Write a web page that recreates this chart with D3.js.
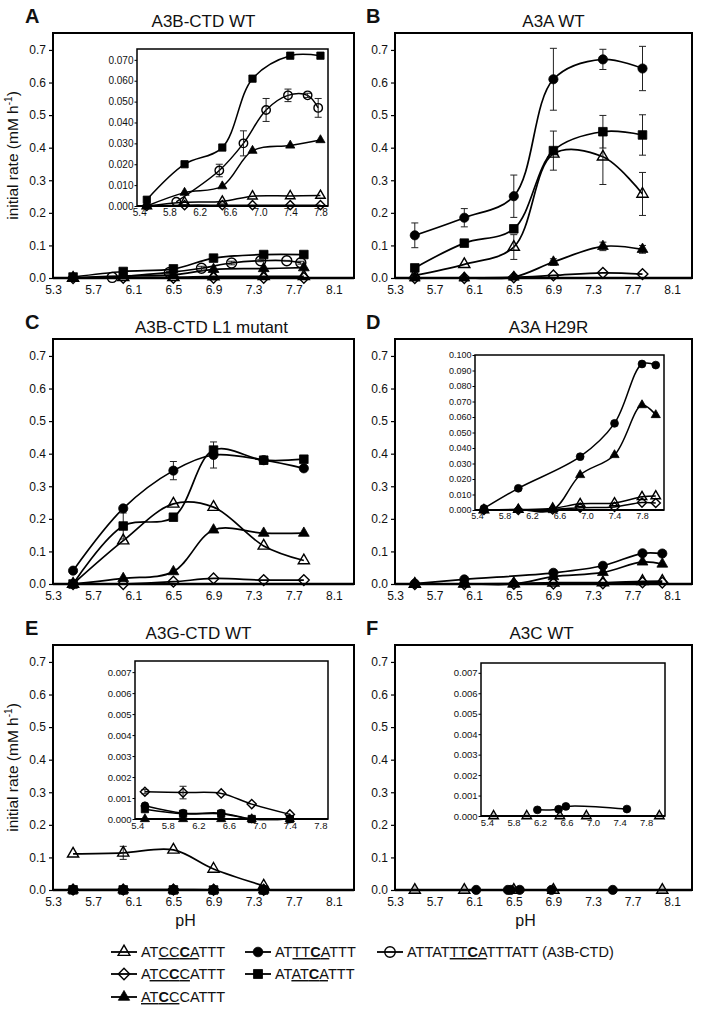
<!DOCTYPE html>
<html>
<head>
<meta charset="utf-8">
<script src="https://cdnjs.cloudflare.com/ajax/libs/d3/7.8.5/d3.min.js"></script>
<style>
  body { margin: 0; background: #fff; }
  svg text { font-family: "Liberation Sans", Arial, sans-serif; fill: #111; }
</style>
</head>
<body>
<div id="chart"></div>
<script>
// ---- data ----
const pH6 = [5.5, 6.0, 6.5, 6.9, 7.4, 7.8];
const pH7 = [5.5, 6.0, 6.5, 6.9, 7.4, 7.8, 8.0];
const pH5 = [5.5, 6.0, 6.5, 6.9, 7.4];

const xTicks = [5.3, 5.7, 6.1, 6.5, 6.9, 7.3, 7.7, 8.1];
const yTicks = [0, 0.1, 0.2, 0.3, 0.4, 0.5, 0.6, 0.7];
const insetXTicks = [5.4, 5.8, 6.2, 6.6, 7.0, 7.4, 7.8];

// A  A3B-CTD WT
const aSq = [0.003, 0.020, 0.028, 0.061, 0.072, 0.072];
const aFtri = [0.0, 0.0064, 0.0095, 0.0265, 0.029, 0.0316];
const aTri = [0.0, 0.0018, 0.0022, 0.0047, 0.0048, 0.0050];
const aDia = [0.0, 0.0004, 0.0004, 0.0004, 0.0004, 0.0004];
const aOcircPH = [5.89, 6.46, 6.78, 7.08, 7.37, 7.63, 7.77];
const aOcirc = [0.002, 0.017, 0.030, 0.046, 0.053, 0.053, 0.047];
const aOcircErr = [0, 0.003, 0.006, 0.0055, 0.003, 0.001, 0.0045];

// B  A3A WT
const bCirc = [0.131, 0.185, 0.251, 0.61, 0.671, 0.643];
const bCircErr = [0.038, 0.028, 0.065, 0.095, 0.031, 0.068];
const bSq = [0.031, 0.107, 0.151, 0.391, 0.449, 0.439];
const bSqErr = [0, 0, 0, 0.06, 0.05, 0.062];
const bTri = [0.008, 0.042, 0.095, 0.381, 0.372, 0.258];
const bTriErr = [0, 0, 0.038, 0, 0.085, 0.066];
const bFtri = [0, 0, 0.003, 0.049, 0.097, 0.088];
const bFtriErr = [0, 0, 0, 0.01, 0.013, 0.012];
const bDia = [0, 0, 0.002, 0.008, 0.016, 0.012];

// C  A3B-CTD L1 mutant
const cCirc = [0.041, 0.232, 0.348, 0.396, 0.38, 0.355];
const cCircErr = [0, 0, 0.028, 0.04, 0, 0];
const cSq = [0, 0.178, 0.205, 0.411, 0.38, 0.383];
const cSqErr = [0, 0.04, 0, 0, 0, 0];
const cTri = [0, 0.133, 0.246, 0.236, 0.117, 0.072];
const cFtri = [0, 0.017, 0.038, 0.166, 0.156, 0.156];
const cDia = [0, 0, 0.007, 0.017, 0.012, 0.012];

// D  A3A H29R
const dCircPH = [5.5, 6.0, 6.9, 7.4, 7.8, 8.0];
const dCirc = [0.001, 0.014, 0.0344, 0.0559, 0.0942, 0.0935];
const dFtri = [0, 0.0004, 0, 0.0226, 0.0355, 0.0677, 0.0613];
const dTri = [0, 0.0003, 0.001, 0.004, 0.0045, 0.0085, 0.009];
const dDia = [0, 0, 0.0003, 0.0015, 0.002, 0.0048, 0.0045];

// E  A3G-CTD WT
const eTri = [0.111, 0.114, 0.123, 0.0645, 0.013];
const eTriErr = [0, 0.02, 0, 0, 0];
const eDia = [0.0013, 0.00126, 0.00122, 0.00071, 0.00022];
const eDiaErr = [0.0001, 0.0003, 0, 0, 0];
const eCirc = [0.00063, 0.00028, 0.00028, 0.0, 0.0];
const eSq = [0.00047, 0.00025, 0.00025, 0.0, 0.0];
const eFtri = [0, 0, 0, 0, 0];

// F  A3C WT
const fTriPH = [5.5, 6.0, 6.5, 6.9, 8.0];
const fTri = [0, 0, 0, 0, 0];
const fCircPH = [6.12, 6.44, 6.47, 6.56, 6.88, 7.5];
const fCirc = [0.0003, 0.0003, 0.0003, 0.00045, 0.0002, 0.00034];
const fCircInsetPH = [6.16, 6.48, 6.59, 7.51];
const fCircInset = [0.0003, 0.00033, 0.00047, 0.00034];

// ---- layout ----
const W = 704, H = 1015;
const colL = [53, 395], colW = [301, 297];
const rowT = [33, 339, 645], frameH = 245;

const S = (shape, x, y, err) => ({shape, x, y, err});

const panels = [
  {letter: "A", title: "A3B-CTD WT", col: 0, row: 0, ylabel: true, titleDx: 0,
   main: [S("dia", pH6, aDia), S("tri", pH6, aTri), S("ftri", pH6, aFtri), S("ocirc", aOcircPH, aOcirc, aOcircErr), S("sq", pH6, aSq)],
   inset: {box: [137, 49, 328, 206], x: [5.37, 7.9], yMax: 0.0752, yStep: 0.01, yTop: 0.07, fs: 10,
           series: [S("dia", pH6, aDia), S("tri", pH6, aTri), S("ftri", pH6, aFtri), S("ocirc", aOcircPH, aOcirc, aOcircErr), S("sq", pH6, aSq)]}},
  {letter: "B", title: "A3A WT", col: 1, row: 0, titleDx: 10,
   main: [S("dia", pH6, bDia), S("ftri", pH6, bFtri, bFtriErr), S("tri", pH6, bTri, bTriErr), S("sq", pH6, bSq, bSqErr), S("circ", pH6, bCirc, bCircErr)]},
  {letter: "C", title: "A3B-CTD L1 mutant", col: 0, row: 1, titleDx: 8,
   main: [S("dia", pH6, cDia), S("ftri", pH6, cFtri), S("tri", pH6, cTri), S("sq", pH6, cSq, cSqErr), S("circ", pH6, cCirc, cCircErr)]},
  {letter: "D", title: "A3A H29R", col: 1, row: 1, titleDx: 5,
   main: [S("dia", pH7, dDia), S("tri", pH7, dTri), S("ftri", pH7, dFtri), S("circ", dCircPH, dCirc)],
   inset: {box: [475, 355, 664, 510], x: [5.37, 8.12], yMax: 0.1, yStep: 0.01, yTop: 0.1, fs: 9,
           series: [S("dia", pH7, dDia), S("tri", pH7, dTri), S("ftri", pH7, dFtri), S("circ", dCircPH, dCirc)]}},
  {letter: "E", title: "A3G-CTD WT", col: 0, row: 2, ylabel: true, xlabel: true, titleDx: -5,
   main: [S("dia", pH5, eDia), S("sq", pH5, eSq), S("circ", pH5, eCirc), S("ftri", pH5, eFtri), S("tri", pH5, eTri, eTriErr)],
   inset: {box: [135, 661, 328, 819], x: [5.37, 7.9], yMax: 0.00753, yStep: 0.001, yTop: 0.007, fs: 9.5,
           series: [S("ftri", pH5, eFtri), S("sq", pH5, eSq), S("circ", pH5, eCirc), S("dia", pH5, eDia, eDiaErr)]}},
  {letter: "F", title: "A3C WT", col: 1, row: 2, xlabel: true, grayTri: true, titleDx: -2,
   main: [S("tri", fTriPH, fTri), S("circ", fCircPH, fCirc)],
   inset: {box: [481, 663, 665, 816], x: [5.31, 8.085], yMax: 0.00748, yStep: 0.001, yTop: 0.007, fs: 9.5,
           series: [S("tri", fTriPH, fTri), S("circ", fCircInsetPH, fCircInset)]}}
];

const svg = d3.select("#chart").append("svg")
  .attr("width", W).attr("height", H)
  .style("background", "#fff");

// marker outlines
const shapePath = {
  circ: r => `M${-r},0a${r},${r} 0 1,0 ${2 * r},0a${r},${r} 0 1,0 ${-2 * r},0Z`,
  ocirc: r => `M${-r},0a${r},${r} 0 1,0 ${2 * r},0a${r},${r} 0 1,0 ${-2 * r},0Z`,
  sq: r => `M${-r},${-r}h${2 * r}v${2 * r}h${-2 * r}Z`,
  tri: r => `M0,${-r * 1.155}L${r},${r * 0.577}L${-r},${r * 0.577}Z`,
  ftri: r => `M0,${-r * 1.155}L${r},${r * 0.577}L${-r},${r * 0.577}Z`,
  dia: r => `M0,${-r}L${r},0L0,${r}L${-r},0Z`
};
const baseR = {circ: 4.6, ocirc: 5, sq: 4.3, tri: 5.6, ftri: 5.4, dia: 5.4};
const filled = {circ: true, sq: true, ftri: true, ocirc: false, tri: false, dia: false};

function drawMarker(g, shape, cx, cy, k, grayTri) {
  let fill = filled[shape] ? "#000" : "none";
  if (shape === "tri" && grayTri) fill = "#c4c4c4";
  g.append("path")
    .attr("d", shapePath[shape](baseR[shape] * k))
    .attr("transform", `translate(${cx},${cy})`)
    .attr("fill", fill)
    .attr("stroke", "#000")
    .attr("stroke-width", filled[shape] ? 0.8 : 1.4);
}

function drawSeries(g, series, x, y, k, lw, grayTri) {
  const line = d3.line()
    .x(d => x(d[0])).y(d => y(d[1]))
    .curve(d3.curveCatmullRom.alpha(0.5));
  // lines
  series.forEach(s => {
    const pts = s.x.map((v, i) => [v, s.y[i]]);
    g.append("path").attr("d", line(pts))
      .attr("fill", "none").attr("stroke", "#000").attr("stroke-width", lw);
  });
  // error bars
  series.forEach(s => {
    if (!s.err) return;
    s.x.forEach((v, i) => {
      const e = s.err[i];
      if (!e) return;
      const cx = x(v), y1 = y(s.y[i] + e), y2 = y(Math.max(0, s.y[i] - e));
      const eg = g.append("g").attr("stroke", "#222").attr("stroke-width", 1);
      eg.append("line").attr("x1", cx).attr("x2", cx).attr("y1", y1).attr("y2", y2);
      eg.append("line").attr("x1", cx - 3.5).attr("x2", cx + 3.5).attr("y1", y1).attr("y2", y1);
      eg.append("line").attr("x1", cx - 3.5).attr("x2", cx + 3.5).attr("y1", y2).attr("y2", y2);
    });
  });
  // markers
  series.forEach(s => {
    s.x.forEach((v, i) => drawMarker(g, s.shape, x(v), y(s.y[i]), k, grayTri));
  });
}

panels.forEach(p => {
  const L = colL[p.col], Wd = colW[p.col], T = rowT[p.row];
  const x = d3.scaleLinear().domain([5.3, 8.3]).range([L, L + Wd]);
  const y = d3.scaleLinear().domain([0, 0.752]).range([T + frameH, T]);
  const g = svg.append("g");

  // panel letter + title
  g.append("text").attr("x", p.col === 0 ? 25 : 366).attr("y", T - 10)
    .attr("font-size", 20).attr("font-weight", "bold").text(p.letter);
  g.append("text").attr("x", L + Wd / 2 + p.titleDx).attr("y", T - 6)
    .attr("text-anchor", "middle").attr("font-size", 17).text(p.title);

  // axes
  const ya = g.append("g").attr("transform", `translate(${L},0)`)
    .call(d3.axisLeft(y).tickValues(yTicks).tickFormat(d3.format(".1f")).tickSize(4).tickPadding(3));
  const xa = g.append("g").attr("transform", `translate(0,${T + frameH})`)
    .call(d3.axisBottom(x).tickValues(xTicks).tickFormat(d3.format(".1f")).tickSize(0).tickPadding(7));
  [ya, xa].forEach(a => {
    a.select(".domain").remove();
    a.selectAll("text").attr("font-size", 12).attr("fill", "#222").style("font-family", "Liberation Sans, Arial, sans-serif");
    a.selectAll("line").attr("stroke", "#000").attr("stroke-width", 1.2);
  });

  // data
  drawSeries(g, p.main, x, y, 1, 1.7, p.grayTri);

  // frame
  g.append("rect").attr("x", L).attr("y", T).attr("width", Wd).attr("height", frameH)
    .attr("fill", "none").attr("stroke", "#000").attr("stroke-width", 2);
  g.append("line").attr("x1", L).attr("x2", L + Wd).attr("y1", T + frameH).attr("y2", T + frameH)
    .attr("stroke", "#000").attr("stroke-width", 2.6);

  if (p.ylabel) {
    const cy = T + frameH / 2;
    const t = g.append("text").attr("transform", `translate(18,${cy}) rotate(-90)`)
      .attr("text-anchor", "middle").attr("font-size", 15.5);
    t.append("tspan").text("initial rate (mM h");
    t.append("tspan").attr("dy", -6).attr("font-size", 10).text("-1");
    t.append("tspan").attr("dy", 6).text(")");
  }
  if (p.xlabel) {
    g.append("text").attr("x", L + Wd / 2 - 18).attr("y", T + frameH + 36)
      .attr("text-anchor", "middle").attr("font-size", 16).text("pH");
  }

  // inset
  if (p.inset) {
    const ins = p.inset;
    const [il, it, ir, ib] = ins.box;
    const ix = d3.scaleLinear().domain(ins.x).range([il, ir]);
    const iy = d3.scaleLinear().domain([0, ins.yMax]).range([ib, it]);
    const ig = g.append("g");
    ig.append("rect").attr("x", il).attr("y", it).attr("width", ir - il).attr("height", ib - it)
      .attr("fill", "#fff");
    const iyTicks = d3.range(0, Math.round(ins.yTop / ins.yStep) + 1).map(i => i * ins.yStep);
    const iya = ig.append("g").attr("transform", `translate(${il},0)`)
      .call(d3.axisLeft(iy).tickValues(iyTicks).tickFormat(d3.format(".3f")).tickSize(2.5).tickPadding(1));
    const ixa = ig.append("g").attr("transform", `translate(0,${ib})`)
      .call(d3.axisBottom(ix).tickValues(insetXTicks).tickFormat(d3.format(".1f")).tickSize(0).tickPadding(3));
    [iya, ixa].forEach(a => {
      a.select(".domain").remove();
      a.selectAll("text").attr("font-size", ins.fs).attr("fill", "#222").style("font-family", "Liberation Sans, Arial, sans-serif");
      a.selectAll("line").attr("stroke", "#000");
    });
    drawSeries(ig, ins.series, ix, iy, 0.85, 1.5, p.grayTri);
    ig.append("rect").attr("x", il).attr("y", it).attr("width", ir - il).attr("height", ib - it)
      .attr("fill", "none").attr("stroke", "#000").attr("stroke-width", 1.5);
    ig.append("line").attr("x1", il).attr("x2", ir).attr("y1", ib).attr("y2", ib)
      .attr("stroke", "#000").attr("stroke-width", 2);
  }
});

// ---- legend ----
const legendItems = [
  {shape: "tri", mx: 124, cy: 952, parts: [["AT"], ["CC", "u"], ["C", "ub"], ["A", "u"], ["TTT"]]},
  {shape: "dia", mx: 124, cy: 974, parts: [["A"], ["TC", "u"], ["C", "ub"], ["C", "u"], ["ATTT"]]},
  {shape: "ftri", mx: 124, cy: 997, parts: [["AT", "u"], ["C", "ub"], ["C", "u"], ["CATTT"]]},
  {shape: "circ", mx: 258, cy: 952, parts: [["AT"], ["TT", "u"], ["C", "ub"], ["A", "u"], ["TTT"]]},
  {shape: "sq", mx: 258, cy: 974, parts: [["AT"], ["AT", "u"], ["C", "ub"], ["A", "u"], ["TTT"]]},
  {shape: "ocirc", mx: 390, cy: 952, parts: [["ATTAT"], ["TT", "u"], ["C", "ub"], ["A", "u"], ["TTTATT (A3B-CTD)"]]}
];

const lg = svg.append("g");
legendItems.forEach(it => {
  lg.append("line").attr("x1", it.mx - 13).attr("x2", it.mx + 13).attr("y1", it.cy).attr("y2", it.cy)
    .attr("stroke", "#000").attr("stroke-width", 1.8);
  drawMarker(lg, it.shape, it.mx, it.cy, 1.05, false);
  const t = lg.append("text").attr("x", it.mx + 17).attr("y", it.cy + 5).attr("font-size", 14.5);
  it.parts.forEach(([s, f]) => {
    const ts = t.append("tspan").text(s);
    if (f && f.includes("u")) ts.attr("text-decoration", "underline");
    if (f && f.includes("b")) ts.attr("font-weight", "bold");
  });
});
</script>
</body>
</html>
